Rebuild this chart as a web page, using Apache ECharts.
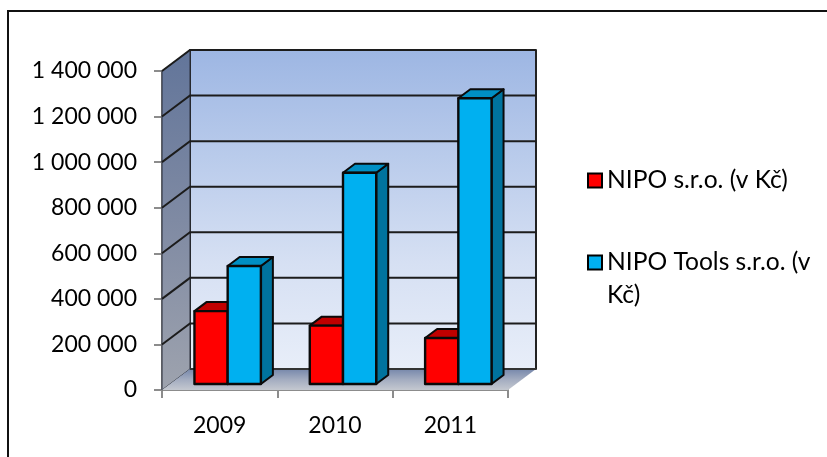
<!DOCTYPE html>
<html>
<head>
<meta charset="utf-8">
<style>html,body{margin:0;padding:0;background:#fff}#c{width:827px;height:457px}</style>
<script src="https://cdn.jsdelivr.net/npm/echarts@6/dist/echarts.min.js"></script>
</head>
<body>
<div id="c"></div>
<script>
const years = ['2009', '2010', '2011'];
const nipo = [320000, 256000, 202000];
const nipoTools = [518000, 927000, 1254000];
const yTicks = [0, 200000, 400000, 600000, 800000, 1000000, 1200000, 1400000];

const FONT = 'Lato, Carlito, sans-serif';
// Oblique projection offsets, in pixels
const BACK = [28, -21];    // front edge of the floor to the back wall
const BAR_PLANE = [8, -6]; // front edge of the floor to the bars' front faces
const BAR_DEPTH = [12, -9];

const chart = echarts.init(document.getElementById('c'));

function poly(points, fill, stroke, lineWidth) {
  return {
    type: 'polygon',
    shape: { points },
    style: { fill, stroke: stroke || 'none', lineWidth: lineWidth || 0, lineJoin: 'round' }
  };
}
function vGrad(stops) {
  return new echarts.graphic.LinearGradient(0, 0, 0, 1,
    stops.map((c, i) => ({ offset: i / (stops.length - 1), color: c })));
}

// Back wall, side wall and floor of the box
function renderWalls(params, api) {
  const band = api.size([1, 0])[0];
  const lb = api.coord([0, 0]);
  const lt = api.coord([0, 1400000]);
  const xL = lb[0] - band / 2;
  const xR = xL + band * 3;
  const yB = lb[1], yT = lt[1];
  const dx = BACK[0], dy = BACK[1];
  return {
    type: 'group',
    children: [
      poly([[xL + dx, yT + dy], [xR + dx, yT + dy], [xR + dx, yB + dy], [xL + dx, yB + dy]],
        vGrad(['#9db6e3', '#b9cbeb', '#d6e0f3', '#e8eef9']), '#222', 2),
      poly([[xL, yT], [xL + dx, yT + dy], [xL + dx, yB + dy], [xL, yB]],
        vGrad(['#62759a', '#7f8aa3', '#9ea3ae']), '#2a2f3a', 1),
      poly([[xL, yB], [xL + dx, yB + dy], [xR + dx, yB + dy], [xR, yB]],
        vGrad(['#7687ab', '#a3acc0', '#c4c8d0']), null, 0),
      { type: 'line', shape: { x1: xL + dx, y1: yB + dy, x2: xR + dx, y2: yB + dy },
        style: { stroke: '#333', lineWidth: 2 } }
    ]
  };
}

// One gridline: along the side wall, then across the back wall
function renderGrid(params, api) {
  const v = api.value(1);
  const band = api.size([1, 0])[0];
  const p = api.coord([0, v]);
  const xL = p[0] - band / 2;
  const xR = xL + band * 3;
  const y = p[1];
  return {
    type: 'polyline',
    shape: { points: [[xL, y], [xL + BACK[0], y + BACK[1]], [xR + BACK[0], y + BACK[1]]] },
    style: { stroke: '#1c1c1c', lineWidth: 2, fill: 'none' }
  };
}

function renderBar(slot, front, top, side) {
  return function (params, api) {
    const idx = api.value(0);
    const band = api.size([1, 0])[0];
    const w = band * 0.288;
    const base = api.coord([idx, 0]);
    const head = api.coord([idx, api.value(1)]);
    const x0 = base[0] + BAR_PLANE[0] - w + slot * w;
    const x1 = x0 + w;
    const yB = base[1] + BAR_PLANE[1];
    const yT = head[1] + BAR_PLANE[1];
    const dx = BAR_DEPTH[0], dy = BAR_DEPTH[1];
    return {
      type: 'group',
      children: [
        poly([[x1, yT], [x1 + dx, yT + dy], [x1 + dx, yB + dy], [x1, yB]], side, '#0a0a0a', 2),
        poly([[x0, yT], [x0 + dx, yT + dy], [x1 + dx, yT + dy], [x1, yT]], top, '#0a0a0a', 2),
        poly([[x0, yT], [x1, yT], [x1, yB], [x0, yB]], front, '#0a0a0a', 2.4)
      ]
    };
  };
}

chart.setOption({
  animation: false,
  backgroundColor: '#fff',
  // Frame edges along the top and left of the chart area
  graphic: [{
    type: 'polyline',
    shape: { points: [[8, 457], [8, 11], [827, 11]] },
    style: { fill: 'none', stroke: '#111', lineWidth: 2 },
    silent: true
  }],
  grid: { left: 162, right: 319, top: 71, bottom: 67 },
  xAxis: {
    type: 'category',
    data: years,
    axisLine: { show: true, lineStyle: { color: '#8c8c8c', width: 2 } },
    axisTick: { show: true, length: 8, lineStyle: { color: '#8c8c8c', width: 2 } },
    axisLabel: { color: '#000', fontFamily: FONT, fontSize: 23, margin: 24 },
    splitLine: { show: false }
  },
  yAxis: {
    type: 'value',
    min: 0,
    max: 1400000,
    interval: 200000,
    axisLine: { show: true, lineStyle: { color: '#8c8c8c', width: 2 } },
    axisTick: { show: true, length: 8, lineStyle: { color: '#8c8c8c', width: 2 } },
    axisLabel: {
      color: '#000', fontFamily: FONT, fontSize: 23, margin: 25,
      formatter: v => String(v).replace(/\B(?=(\d{3})+$)/g, ' ')
    },
    splitLine: { show: false }
  },
  legend: {
    orient: 'vertical',
    left: 587,
    top: 164,
    padding: 0,
    itemWidth: 14,
    itemHeight: 14,
    itemGap: 16,
    selectedMode: false,
    // The leading blank line keeps the key beside the first visible line of the wrapped name
    formatter: n => n === 'NIPO Tools s.r.o. (v Kč)' ? '\nNIPO Tools s.r.o. (v\nKč)' : n,
    textStyle: { color: '#000', fontFamily: FONT, fontSize: 24.6, lineHeight: 33 },
    data: [
      { name: 'NIPO s.r.o. (v Kč)', icon: 'rect',
        itemStyle: { color: '#ff0000', borderColor: '#000', borderWidth: 2 } },
      { name: 'NIPO Tools s.r.o. (v Kč)', icon: 'rect',
        itemStyle: { color: '#00b0f0', borderColor: '#000', borderWidth: 2 } }
    ]
  },
  series: [
    { type: 'custom', name: 'walls', silent: true, z: 1, renderItem: renderWalls,
      data: [[0, 0]], encode: { x: 0, y: 1 } },
    { type: 'custom', name: 'gridlines', silent: true, z: 2, renderItem: renderGrid,
      data: yTicks.slice(1).map(v => [0, v]), encode: { x: 0, y: 1 } },
    { type: 'custom', name: 'NIPO s.r.o. (v Kč)', z: 3,
      renderItem: renderBar(0, '#ff0000', '#c00000', '#a00000'),
      data: nipo.map((v, i) => [i, v]), encode: { x: 0, y: 1 } },
    { type: 'custom', name: 'NIPO Tools s.r.o. (v Kč)', z: 4,
      renderItem: renderBar(1, '#00b0f0', '#008fc4', '#00739e'),
      data: nipoTools.map((v, i) => [i, v]), encode: { x: 0, y: 1 } }
  ]
});
</script>
</body>
</html>
